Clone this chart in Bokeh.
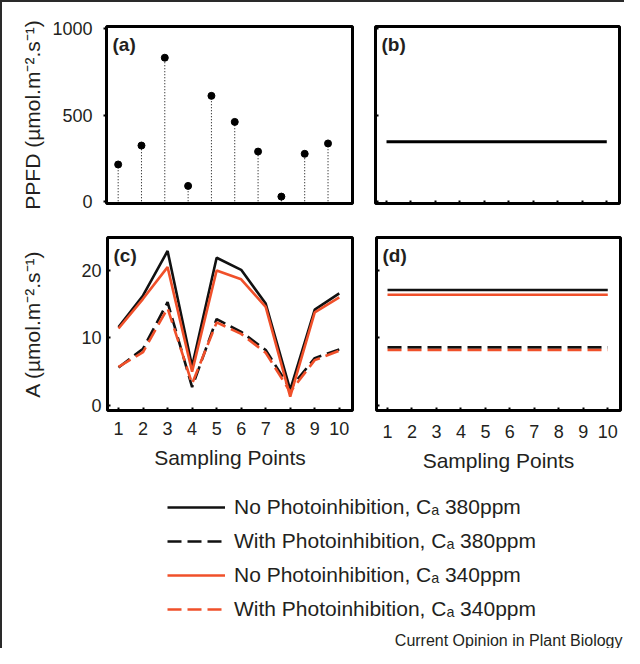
from bokeh.plotting import figure
from bokeh.layouts import column, row
from bokeh.models import (FixedTicker, Label, Legend, LegendItem, Range1d,
                          CustomLabelingPolicy)
from bokeh.embed import file_html
from bokeh.resources import INLINE

# ---------------- data ----------------
points = [1, 2, 3, 4, 5, 6, 7, 8, 9, 10]
ppfd = [213, 323, 832, 89, 611, 460, 288, 27, 275, 335]
ppfd_const = 345

a_no_380 = [11.6, 16.3, 22.9, 5.8, 21.9, 20.1, 15.1, 2.3, 14.2, 16.6]
a_with_380 = [5.6, 8.4, 15.3, 2.7, 12.8, 10.9, 8.2, 2.5, 7.0, 8.3]
a_no_340 = [11.4, 15.8, 20.5, 5.0, 20.0, 18.7, 14.6, 1.3, 13.8, 16.0]
a_with_340 = [5.7, 7.9, 14.4, 3.2, 12.3, 10.6, 7.8, 2.0, 6.7, 8.1]

d_no_380 = 17.1
d_with_380 = 8.6
d_no_340 = 16.4
d_with_340 = 8.2

ppfd_ticks = [0, 500, 1000]
a_ticks = [0, 10, 20]

series_labels = [
    "No Photoinhibition, C\u2090 380ppm",
    "With Photoinhibition, C\u2090 380ppm",
    "No Photoinhibition, C\u2090 340ppm",
    "With Photoinhibition, C\u2090 340ppm",
]
panel_labels = ["(a)", "(b)", "(c)", "(d)"]
ppfd_label = "PPFD (\u00b5mol.m\u207b\u00b2.s\u207b\u00b9)"
a_label = "A (\u00b5mol.m\u207b\u00b2.s\u207b\u00b9)"
x_label = "Sampling Points"
credit = "Current Opinion in Plant Biology"

# ---------------- style ----------------
FONT = "Liberation Sans"
TXT = "#231f20"
BLACK = "#111111"
RED = "#f0502a"
DASH = "14 6"
LW = 2.6


def base(width, height, xr, yr, bl, br, bt, bb):
    p = figure(width=width, height=height, x_range=Range1d(*xr), y_range=Range1d(*yr),
               output_backend="svg", toolbar_location=None,
               min_border_left=bl, min_border_right=br, min_border_top=bt, min_border_bottom=bb)
    p.outline_line_color = "black"
    p.outline_line_width = 3
    p.outline_line_alpha = 1
    p.grid.visible = False
    p.background_fill_color = "white"
    p.border_fill_color = "white"
    for ax in p.axis:
        ax.axis_line_color = None
        ax.major_tick_line_color = "black"
        ax.major_tick_line_width = 2
        ax.major_tick_in = 3
        ax.major_tick_out = 0
        ax.minor_tick_line_color = None
        ax.major_label_text_font = FONT
        ax.major_label_text_font_size = "18px"
        ax.major_label_text_color = TXT
        ax.axis_label_text_font = FONT
        ax.axis_label_text_font_size = "21px"
        ax.axis_label_text_font_style = "normal"
        ax.axis_label_text_color = TXT
    return p


def ticks_only(ax):
    # keep the tick marks, draw no tick labels
    ax.major_label_text_font_size = "1px"
    ax.major_label_standoff = 0
    ax.major_label_policy = CustomLabelingPolicy(code="return []")


def panel_tag(p, text):
    p.add_layout(Label(x=p.x_range.start, y=p.y_range.end, x_offset=6, y_offset=-7,
                       text=text, text_font=FONT, text_font_size="19px",
                       text_font_style="bold", text_color=TXT, text_baseline="top"))


# ---------------- (a) ----------------
pa = base(362, 226, (0.5, 11.05), (-13, 1013), 104, 12, 24, 25)
pa.xaxis.visible = False
pa.yaxis.ticker = FixedTicker(ticks=ppfd_ticks)
pa.yaxis.axis_label = ppfd_label
pa.yaxis.major_label_standoff = 11
pa.yaxis.axis_label_standoff = 5
pa.yaxis.major_tick_in = 0
pa.yaxis.major_tick_out = 3
pa.segment(x0=points, y0=0, x1=points, y1=ppfd, line_color="black",
           line_width=1, line_dash="1 2")
pa.scatter(points, ppfd, size=7, color="black")
panel_tag(pa, panel_labels[0])

# ---------------- (b) ----------------
pb = base(260, 226, (0.55, 10.52), (-13, 1013), 11, 5, 24, 25)
pb.yaxis.ticker = FixedTicker(ticks=ppfd_ticks)
pb.xaxis.ticker = FixedTicker(ticks=points)
ticks_only(pb.yaxis[0])
ticks_only(pb.xaxis[0])
pb.line([points[0], points[-1]], [ppfd_const, ppfd_const], line_color="black", line_width=3)
panel_tag(pb, panel_labels[1])

# ---------------- (c) ----------------
pc = base(362, 254, (0.55, 10.54), (-0.77, 24.9), 105, 12, 9, 71)
pc.yaxis.ticker = FixedTicker(ticks=a_ticks)
pc.xaxis.ticker = FixedTicker(ticks=points)
pc.yaxis.axis_label = a_label
pc.yaxis.major_label_standoff = 6
pc.yaxis.axis_label_standoff = 34
pc.xaxis.axis_label = x_label
pc.xaxis.major_label_standoff = 11
pc.xaxis.axis_label_standoff = 8
pc.line(points, a_no_380, line_color=BLACK, line_width=LW)
pc.line(points, a_with_380, line_color=BLACK, line_width=LW, line_dash=DASH)
pc.line(points, a_no_340, line_color=RED, line_width=LW)
pc.line(points, a_with_340, line_color=RED, line_width=LW, line_dash=DASH)
panel_tag(pc, panel_labels[2])

# ---------------- (d) ----------------
pd_ = base(260, 254, (0.55, 10.52), (-0.77, 24.9), 12, 4, 8, 72)
pd_.yaxis.ticker = FixedTicker(ticks=a_ticks)
pd_.xaxis.ticker = FixedTicker(ticks=points)
ticks_only(pd_.yaxis[0])
pd_.xaxis.axis_label = x_label
pd_.xaxis.major_label_standoff = 14
pd_.xaxis.axis_label_standoff = 8
xs = [points[0], points[-1]]
pd_.line(xs, [d_no_380] * 2, line_color=BLACK, line_width=LW)
pd_.line(xs, [d_with_380] * 2, line_color=BLACK, line_width=LW, line_dash=DASH)
pd_.line(xs, [d_no_340] * 2, line_color=RED, line_width=LW)
pd_.line(xs, [d_with_340] * 2, line_color=RED, line_width=LW, line_dash=DASH)
panel_tag(pd_, panel_labels[3])

# ---------------- legend strip ----------------
# the legend's sample renderers hold the series but lie outside this strip's view
pl = figure(width=622, height=166, x_range=Range1d(50, 51), y_range=Range1d(50, 51),
            output_backend="svg", toolbar_location=None, min_border=0)
pl.axis.visible = False
pl.grid.visible = False
pl.outline_line_color = None
series = [a_no_380, a_with_380, a_no_340, a_with_340]
styles = [(BLACK, "solid"), (BLACK, DASH), (RED, "solid"), (RED, DASH)]
rends = [pl.line(points, s, line_color=c, line_width=LW, line_dash=d)
         for s, (c, d) in zip(series, styles)]
legend = Legend(items=[LegendItem(label=lab, renderers=[r]) for lab, r in zip(series_labels, rends)],
                location=(165, 27), glyph_width=58, glyph_height=20, label_height=20,
                label_standoff=9, spacing=10, padding=0, margin=0,
                border_line_color=None, background_fill_alpha=0,
                label_text_font=FONT, label_text_font_size="21px", label_text_color=TXT)
pl.add_layout(legend)
pl.add_layout(Label(x=620, y=0, x_units="screen", y_units="screen", text=credit,
                    text_font=FONT, text_font_size="16px", text_color=TXT,
                    text_align="right", text_baseline="bottom"))

layout = column(row(pa, pb), row(pc, pd_), pl,
                styles={"border-top": "2px solid #2a2a2a", "border-left": "2px solid #2a2a2a"})

open("out.html", "w").write(file_html(layout, INLINE))
